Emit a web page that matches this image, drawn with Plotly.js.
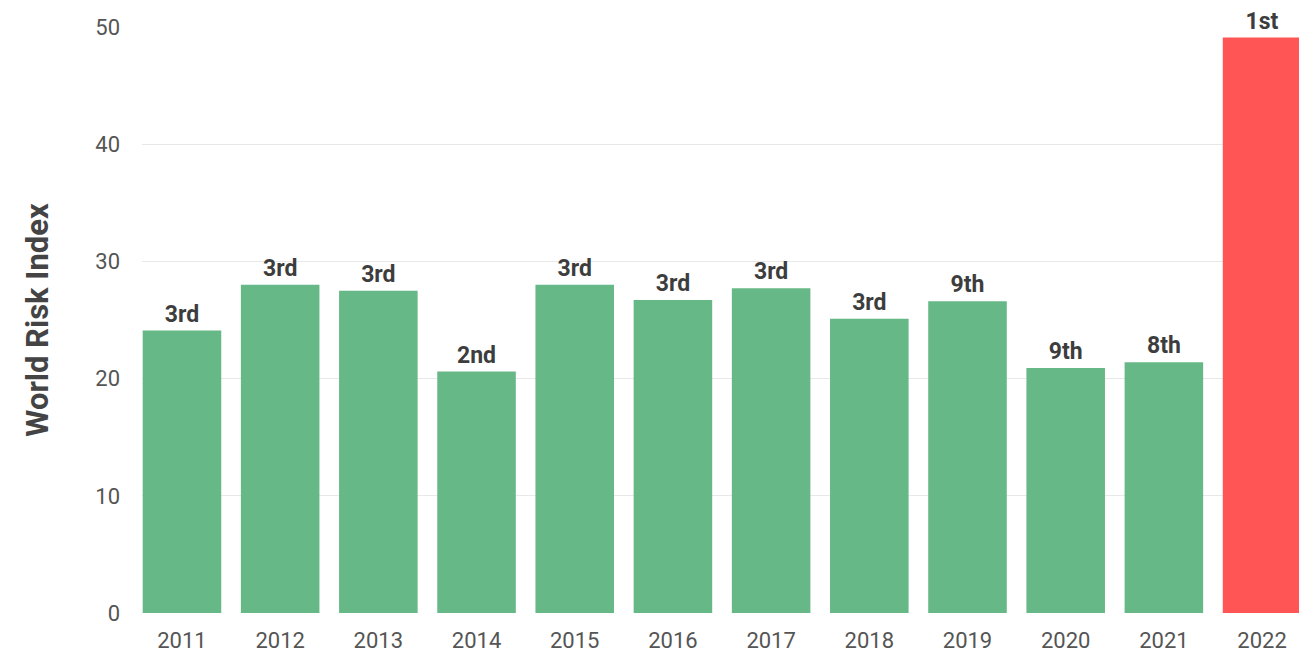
<!DOCTYPE html>
<html>
<head>
<meta charset="utf-8">
<script src="https://cdn.plot.ly/plotly-3.0.1.min.js"></script>
<style>html,body{margin:0;padding:0;background:#fff;overflow:hidden;}</style>
</head>
<body>
<div id="chart" style="width:1299px;height:654px;"></div>
<script>
const years = ['2011','2012','2013','2014','2015','2016','2017','2018','2019','2020','2021','2022'];
const riskIndex = [24.1, 28.0, 27.5, 20.6, 28.0, 26.7, 27.7, 25.1, 26.6, 20.9, 21.4, 49.1];
const ranks = ['3rd','3rd','3rd','2nd','3rd','3rd','3rd','3rd','9th','9th','8th','1st'];
const highlightYear = '2022';
const yTicks = [0, 10, 20, 30, 40, 50];

const green = '#66b886';
const red = '#ff5555';
const colors = years.map(y => y === highlightYear ? red : green);

const trace = {
  type: 'bar',
  x: years,
  y: riskIndex,
  text: ranks,
  textposition: 'outside',
  cliponaxis: false,
  textfont: {family: 'Roboto, sans-serif', size: 23, color: '#3d3d3d', weight: 'bold'},
  marker: {color: colors},
  hoverinfo: 'x+y'
};

const layout = {
  width: 1299,
  height: 654,
  margin: {l: 142, r: 0, t: 27, b: 41},
  paper_bgcolor: '#ffffff',
  plot_bgcolor: '#ffffff',
  bargap: 0.2,
  showlegend: false,
  font: {family: 'Roboto, sans-serif'},
  xaxis: {
    type: 'category',
    range: [-0.407, 11.376],
    showgrid: false,
    zeroline: false,
    showline: false,
    ticks: '',
    ticklabelstandoff: 12,
    tickfont: {family: 'Roboto, sans-serif', size: 22, color: '#555555'}
  },
  yaxis: {
    range: [0, 50],
    tickvals: yTicks,
    ticktext: yTicks.map(String),
    showgrid: true,
    gridcolor: '#e8e8e8',
    gridwidth: 1,
    zeroline: false,
    showline: false,
    ticks: '',
    ticklabelstandoff: 21,
    tickfont: {family: 'Roboto, sans-serif', size: 22, color: '#555555'},
    title: {
      text: 'World Risk Index',
      standoff: 37,
      font: {family: 'Roboto, sans-serif', size: 31, color: '#444444', weight: 'bold'}
    }
  }
};

Plotly.newPlot('chart', [trace], layout, {displayModeBar: false, staticPlot: true});
</script>
</body>
</html>
